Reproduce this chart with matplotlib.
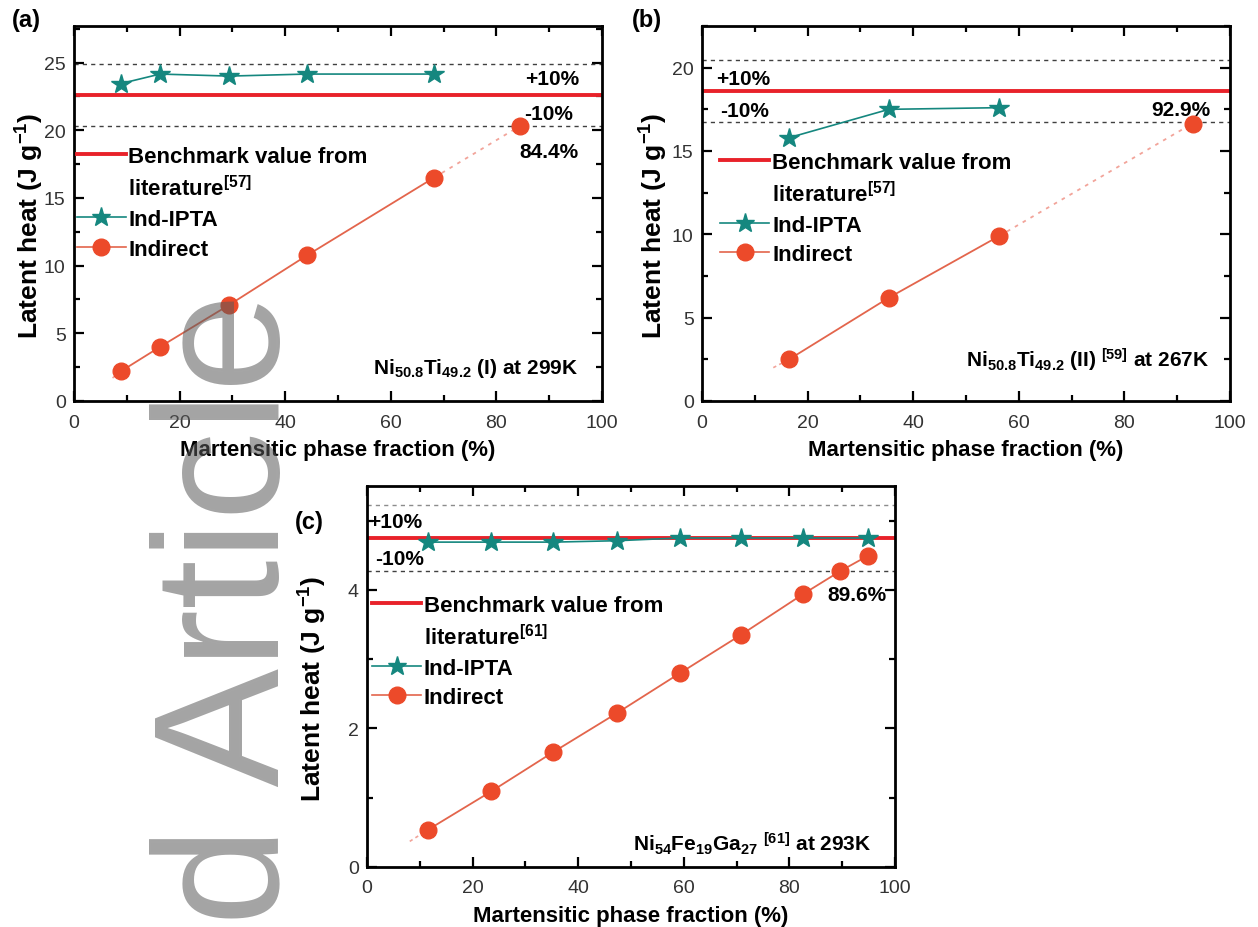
import numpy as np
import matplotlib.pyplot as plt
from matplotlib.lines import Line2D
from matplotlib.ticker import MultipleLocator

plt.rcParams['font.family'] = ['Liberation Sans', 'DejaVu Sans']
plt.rcParams['mathtext.default'] = 'regular'

# panel (a) Ni50.8Ti49.2 (I)
a_x = [8.9, 16.3, 29.4, 44.1, 68.2]
a_ipta = [23.45, 24.15, 24.0, 24.15, 24.15]
a_ind = [2.2, 4.0, 7.1, 10.75, 16.5]
a_tail_x, a_tail_y = [7.3, 8.9], [1.7, 2.2]
a_ext_x, a_ext_y = [68.2, 84.4], [16.5, 20.3]
a_bench = 22.6

# panel (b) Ni50.8Ti49.2 (II)
b_x = [16.5, 35.4, 56.3]
b_ipta = [15.8, 17.5, 17.6]
b_ind = [2.5, 6.2, 9.9]
b_tail_x, b_tail_y = [13.5, 16.5], [2.0, 2.5]
b_ext_x, b_ext_y = [56.3, 92.9], [9.9, 16.65]
b_bench = 18.6

# panel (c) Ni54Fe19Ga27
c_x = [11.6, 23.5, 35.3, 47.3, 59.3, 70.8, 82.6, 94.8]
c_ipta = [4.69, 4.69, 4.69, 4.71, 4.75, 4.75, 4.75, 4.75]
c_ind_x = [11.6, 23.5, 35.3, 47.3, 59.3, 70.8, 82.6, 89.6, 94.8]
c_ind = [0.54, 1.09, 1.66, 2.22, 2.80, 3.35, 3.94, 4.27, 4.49]
c_tail_x, c_tail_y = [8.1, 11.6], [0.37, 0.54]
c_bench = 4.75

RED = '#e8222a'
TEAL = '#15877f'
ORANGE = '#ec4a2a'
OLINE = '#e3654c'
PINK = '#f2a49a'

fig = plt.figure(figsize=(12.58, 9.28), dpi=100)
W, H = 1258, 928


def add_axes(l, t, r, b):
    return fig.add_axes([l / W, 1 - b / H, (r - l) / W, (b - t) / H])


def setup(ax, ylim, ymaj, ymin, ylab_x):
    ax.set_xlim(0, 100)
    ax.set_ylim(*ylim)
    ax.xaxis.set_major_locator(MultipleLocator(20))
    ax.xaxis.set_minor_locator(MultipleLocator(10))
    ax.yaxis.set_major_locator(MultipleLocator(ymaj))
    ax.yaxis.set_minor_locator(MultipleLocator(ymin))
    ax.tick_params(which='both', direction='in', top=True, right=True,
                   labelsize=14, labelcolor='#333333', width=1.6)
    ax.tick_params(which='major', length=7)
    ax.tick_params(axis='x', which='major', pad=9)
    ax.tick_params(axis='y', which='major', pad=6)
    ax.tick_params(which='minor', length=4)
    for s in ax.spines.values():
        s.set_linewidth(2)
    ax.set_xlabel('Martensitic phase fraction (%)', fontsize=16,
                  fontweight='bold', labelpad=6)
    ax.set_ylabel('Latent heat (J g$^{-1}$)', fontsize=19, fontweight='bold')
    ax.yaxis.set_label_coords(ylab_x, 0.47)


def bands(ax, bench, upper_color='0.25'):
    ax.axhline(bench, color=RED, lw=2.8, zorder=2)
    ax.axhline(bench * 1.1, color=upper_color, lw=1, ls=(0, (3, 3)))
    ax.axhline(bench * 0.9, color='0.25', lw=1, ls=(0, (3, 3)))


def legend(ax, ref, y, x=0.005):
    handles = [Line2D([], [], color=RED, lw=2.8),
               Line2D([], [], linestyle='none'),
               Line2D([], [], color=TEAL, lw=1.2, marker='*', ms=14),
               Line2D([], [], color=OLINE, lw=1.2, marker='o', ms=12,
                      mfc=ORANGE, mec=ORANGE)]
    labels = ['Benchmark value from', 'literature$^{[' + ref + ']}$',
              'Ind-IPTA', 'Indirect']
    ax.legend(handles, labels, loc='upper left', bbox_to_anchor=(x, y),
              frameon=False, borderpad=0, borderaxespad=0, numpoints=1,
              handlelength=2.2, handletextpad=0.12, labelspacing=0.38,
              prop={'weight': 'bold', 'size': 16})


def series(ax, x, ipta, ind_x, ind, tail_x, tail_y):
    ax.plot(tail_x, tail_y, color=PINK, lw=1.2, ls=(0, (2, 2)), zorder=3)
    ax.plot(ind_x, ind, color=OLINE, lw=1.3, marker='o', ms=12,
            mfc=ORANGE, mec=ORANGE, zorder=4)
    ax.plot(x, ipta, color=TEAL, lw=1.2, marker='*', ms=15,
            mfc=TEAL, mec=TEAL, zorder=5)


bold = dict(fontsize=15, fontweight='bold')

# (a)
ax = add_axes(74, 27, 602, 402)
setup(ax, (0, 27.7), 5, 2.5, -0.053)
bands(ax, a_bench)
ax.plot(a_ext_x, a_ext_y, color=PINK, lw=1.3, ls=(0, (2, 3)), zorder=3)
ax.plot(a_ext_x[1:], a_ext_y[1:], 'o', ms=12, color=ORANGE, zorder=4)
series(ax, a_x, a_ipta, a_x, a_ind, a_tail_x, a_tail_y)
legend(ax, '57', 0.68)
ax.text(95.6, 23.8, '+10%', ha='right', va='center', **bold)
ax.text(94.6, 21.2, '-10%', ha='right', va='center', **bold)
ax.text(95.6, 18.4, '84.4%', ha='right', va='center', **bold)
ax.text(95.5, 2.5, 'Ni$_{50.8}$Ti$_{49.2}$ (I) at 299K', ha='right',
        va='center', fontsize=15, fontweight='bold')
fig.text(26 / W, 1 - 20 / H, '(a)', fontsize=17, fontweight='bold',
         ha='center', va='center')

# (b)
ax = add_axes(702, 27, 1230, 402)
setup(ax, (0, 22.5), 5, 2.5, -0.06)
bands(ax, b_bench)
ax.plot(b_ext_x, b_ext_y, color=PINK, lw=1.3, ls=(0, (2, 3)), zorder=3)
ax.plot(b_ext_x[1:], b_ext_y[1:], 'o', ms=12, color=ORANGE, zorder=4)
series(ax, b_x, b_ipta, b_x, b_ind, b_tail_x, b_tail_y)
legend(ax, '57', 0.665, x=0.035)
ax.text(2.7, 19.35, '+10%', ha='left', va='center', **bold)
ax.text(3.4, 17.45, '-10%', ha='left', va='center', **bold)
ax.text(96.2, 17.5, '92.9%', ha='right', va='center', **bold)
ax.text(96, 2.5, 'Ni$_{50.8}$Ti$_{49.2}$ (II) $^{[59]}$ at 267K', ha='right',
        va='center', fontsize=15, fontweight='bold')
fig.text(647 / W, 1 - 20 / H, '(b)', fontsize=17, fontweight='bold',
         ha='center', va='center')

# (c)
ax = add_axes(367, 487, 895, 868)
setup(ax, (0, 5.5), 2, 1, -0.072)
bands(ax, c_bench, upper_color='0.55')
series(ax, c_x, c_ipta, c_ind_x, c_ind, c_tail_x, c_tail_y)
legend(ax, '61', 0.715, x=0.01)
ax.text(0.3, 4.99, '+10%', ha='left', va='center', **bold)
ax.text(1.5, 4.45, '-10%', ha='left', va='center', **bold)
ax.text(98.4, 3.94, '89.6%', ha='right', va='center', **bold)
ax.text(95.5, 0.35, 'Ni$_{54}$Fe$_{19}$Ga$_{27}$ $^{[61]}$ at 293K', ha='right',
        va='center', fontsize=15, fontweight='bold')
fig.text(309 / W, 1 - 522 / H, '(c)', fontsize=17, fontweight='bold',
         ha='center', va='center')

# watermark
fig.text(279 / W, 1 - 925 / H, 'd Article', rotation=90, rotation_mode='anchor',
         ha='left', va='baseline', fontsize=128, color='0.35', alpha=0.55,
         zorder=10)

fig.savefig('out.png', dpi=100)
